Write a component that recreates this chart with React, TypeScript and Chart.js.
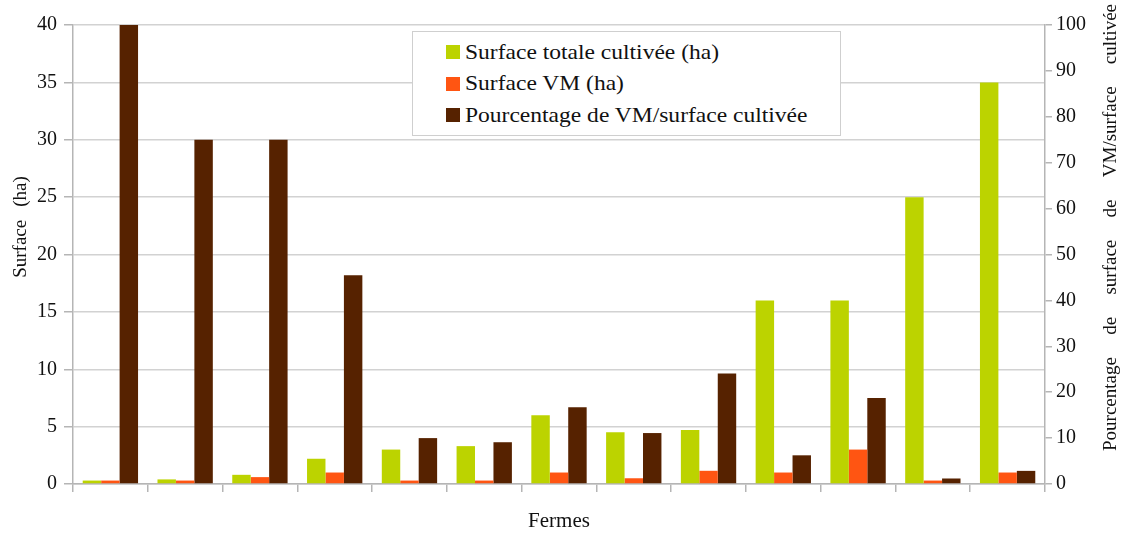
import React, { useEffect, useRef } from "react";
import { Chart, registerables } from "chart.js";

Chart.register(...registerables);

// Thirteen farms, shown without individual labels
const farms = ["F1", "F2", "F3", "F4", "F5", "F6", "F7", "F8", "F9", "F10", "F11", "F12", "F13"];

// Total cultivated area (ha), left axis
const surfaceTotale = [0.3, 0.4, 0.8, 2.2, 3, 3.3, 6, 4.5, 4.7, 16, 16, 25, 35];
// Area under VM (ha), left axis
const surfaceVM = [0.3, 0.3, 0.6, 1, 0.3, 0.3, 1, 0.5, 1.15, 1, 3, 0.3, 1];
// Share of VM in cultivated area (%), right axis
const pourcentageVM = [100, 75, 75, 45.5, 10, 9.1, 16.7, 11.1, 24.1, 6.25, 18.75, 1.2, 2.86];

const leftTicks = [0, 5, 10, 15, 20, 25, 30, 35, 40];
const rightTicks = [0, 10, 20, 30, 40, 50, 60, 70, 80, 90, 100];

const seriesNames = [
  "Surface totale cultivée (ha)",
  "Surface VM (ha)",
  "Pourcentage de VM/surface cultivée",
];
const colors = ["#BCD300", "#FF5512", "#562200"];

const leftTitleWords = ["Surface", "(ha)"];
const rightTitleWords = ["Pourcentage", "de", "surface", "de", "VM/surface", "cultivée"];

const FONT = '"Liberation Serif", "DejaVu Serif", serif';
const TEXT = "#111111";

// Draws the two vertical axis titles with spread-out words
const axisTitles = {
  id: "axisTitles",
  afterDraw(chart: any) {
    const ctx = chart.ctx;
    ctx.save();
    ctx.fillStyle = TEXT;
    ctx.font = `19px ${FONT}`;
    ctx.textBaseline = "middle";
    ctx.textAlign = "left";

    // left title, centered, reading upward
    {
      const gap = 13;
      const widths = leftTitleWords.map((w) => ctx.measureText(w).width);
      const total = widths.reduce((a, b) => a + b, 0) + gap * (widths.length - 1);
      ctx.save();
      ctx.translate(21, 227);
      ctx.rotate(-Math.PI / 2);
      let x = -total / 2;
      leftTitleWords.forEach((w, i) => {
        ctx.fillText(w, x, 0);
        x += widths[i] + gap;
      });
      ctx.restore();
    }

    // right title, justified along the axis height, reading upward
    {
      const start = 451;
      const end = 4;
      const span = start - end;
      const widths = rightTitleWords.map((w) => ctx.measureText(w).width);
      const sum = widths.reduce((a, b) => a + b, 0);
      const gap = (span - sum) / (widths.length - 1);
      ctx.save();
      ctx.translate(1111, start);
      ctx.rotate(-Math.PI / 2);
      let x = 0;
      rightTitleWords.forEach((w, i) => {
        ctx.fillText(w, x, 0);
        x += widths[i] + gap;
      });
      ctx.restore();
    }
    ctx.restore();
  },
};

export default function App() {
  const canvasRef = useRef<HTMLCanvasElement | null>(null);

  useEffect(() => {
    if (!canvasRef.current) return;
    const tickFont = { family: FONT, size: 20 };
    const chart = new Chart(canvasRef.current, {
      type: "bar",
      data: {
        labels: farms,
        datasets: [
          { label: seriesNames[0], data: surfaceTotale, backgroundColor: colors[0], yAxisID: "y" },
          { label: seriesNames[1], data: surfaceVM, backgroundColor: colors[1], yAxisID: "y" },
          { label: seriesNames[2], data: pourcentageVM, backgroundColor: colors[2], yAxisID: "y1" },
        ],
      },
      options: {
        animation: false,
        responsive: false,
        maintainAspectRatio: false,
        layout: { padding: { top: 25, left: 0, right: 0, bottom: 0 } },
        datasets: { bar: { categoryPercentage: 0.74, barPercentage: 1 } },
        plugins: { legend: { display: false }, tooltip: { enabled: false } },
        scales: {
          x: {
            grid: { offset: true, drawOnChartArea: false, color: "#b5b5b5", lineWidth: 1.5, tickLength: 8 },
            border: { color: "#b5b5b5", width: 1.5 },
            ticks: { display: false },
            title: { display: true, text: "Fermes", color: TEXT, font: { family: FONT, size: 21 }, padding: { top: 0, bottom: 2 } },
            afterFit: (s: any) => { s.height = 52; },
          },
          y: {
            position: "left",
            min: 0,
            max: 40,
            afterBuildTicks: (s: any) => { s.ticks = leftTicks.map((v) => ({ value: v })); },
            ticks: { color: TEXT, font: tickFont, padding: 7 },
            grid: { color: "#d2d2d2", lineWidth: 1.5, tickLength: 9, tickColor: "#b5b5b5" },
            border: { color: "#b5b5b5", width: 1.5 },
            afterFit: (s: any) => { s.width = 73; },
          },
          y1: {
            position: "right",
            min: 0,
            max: 100,
            afterBuildTicks: (s: any) => { s.ticks = rightTicks.map((v) => ({ value: v })); },
            ticks: { color: TEXT, font: tickFont, padding: 4 },
            grid: { drawOnChartArea: false, color: "#b5b5b5", lineWidth: 1.5, tickLength: 7 },
            border: { color: "#b5b5b5", width: 1.5 },
            afterFit: (s: any) => { s.width = 81; },
          },
        },
      },
      plugins: [axisTitles],
    });
    return () => chart.destroy();
  }, []);

  return (
    <div style={{ position: "fixed", left: 0, top: 0, width: 1126, height: 536, background: "#fff" }}>
      <canvas ref={canvasRef} width={1126} height={536} style={{ display: "block" }} />
      <div
        style={{
          position: "absolute",
          left: 412,
          top: 31,
          width: 429,
          height: 105,
          border: "1.5px solid #cfcfcf",
          background: "#fff",
          boxSizing: "border-box",
          fontFamily: FONT,
          fontSize: 21,
          color: TEXT,
        }}
      >
        {seriesNames.map((name, i) => (
          <div
            key={name}
            style={{
              position: "absolute",
              left: 33,
              top: 7 + i * 31.5,
              height: 26,
              display: "flex",
              alignItems: "center",
              whiteSpace: "nowrap",
            }}
          >
            <span style={{ display: "inline-block", width: 14, height: 14, background: colors[i], marginRight: 5 }} />
            <span style={{ display: "inline-block", transform: "scaleX(1.12)", transformOrigin: "left center" }}>{name}</span>
          </div>
        ))}
      </div>
    </div>
  );
}
